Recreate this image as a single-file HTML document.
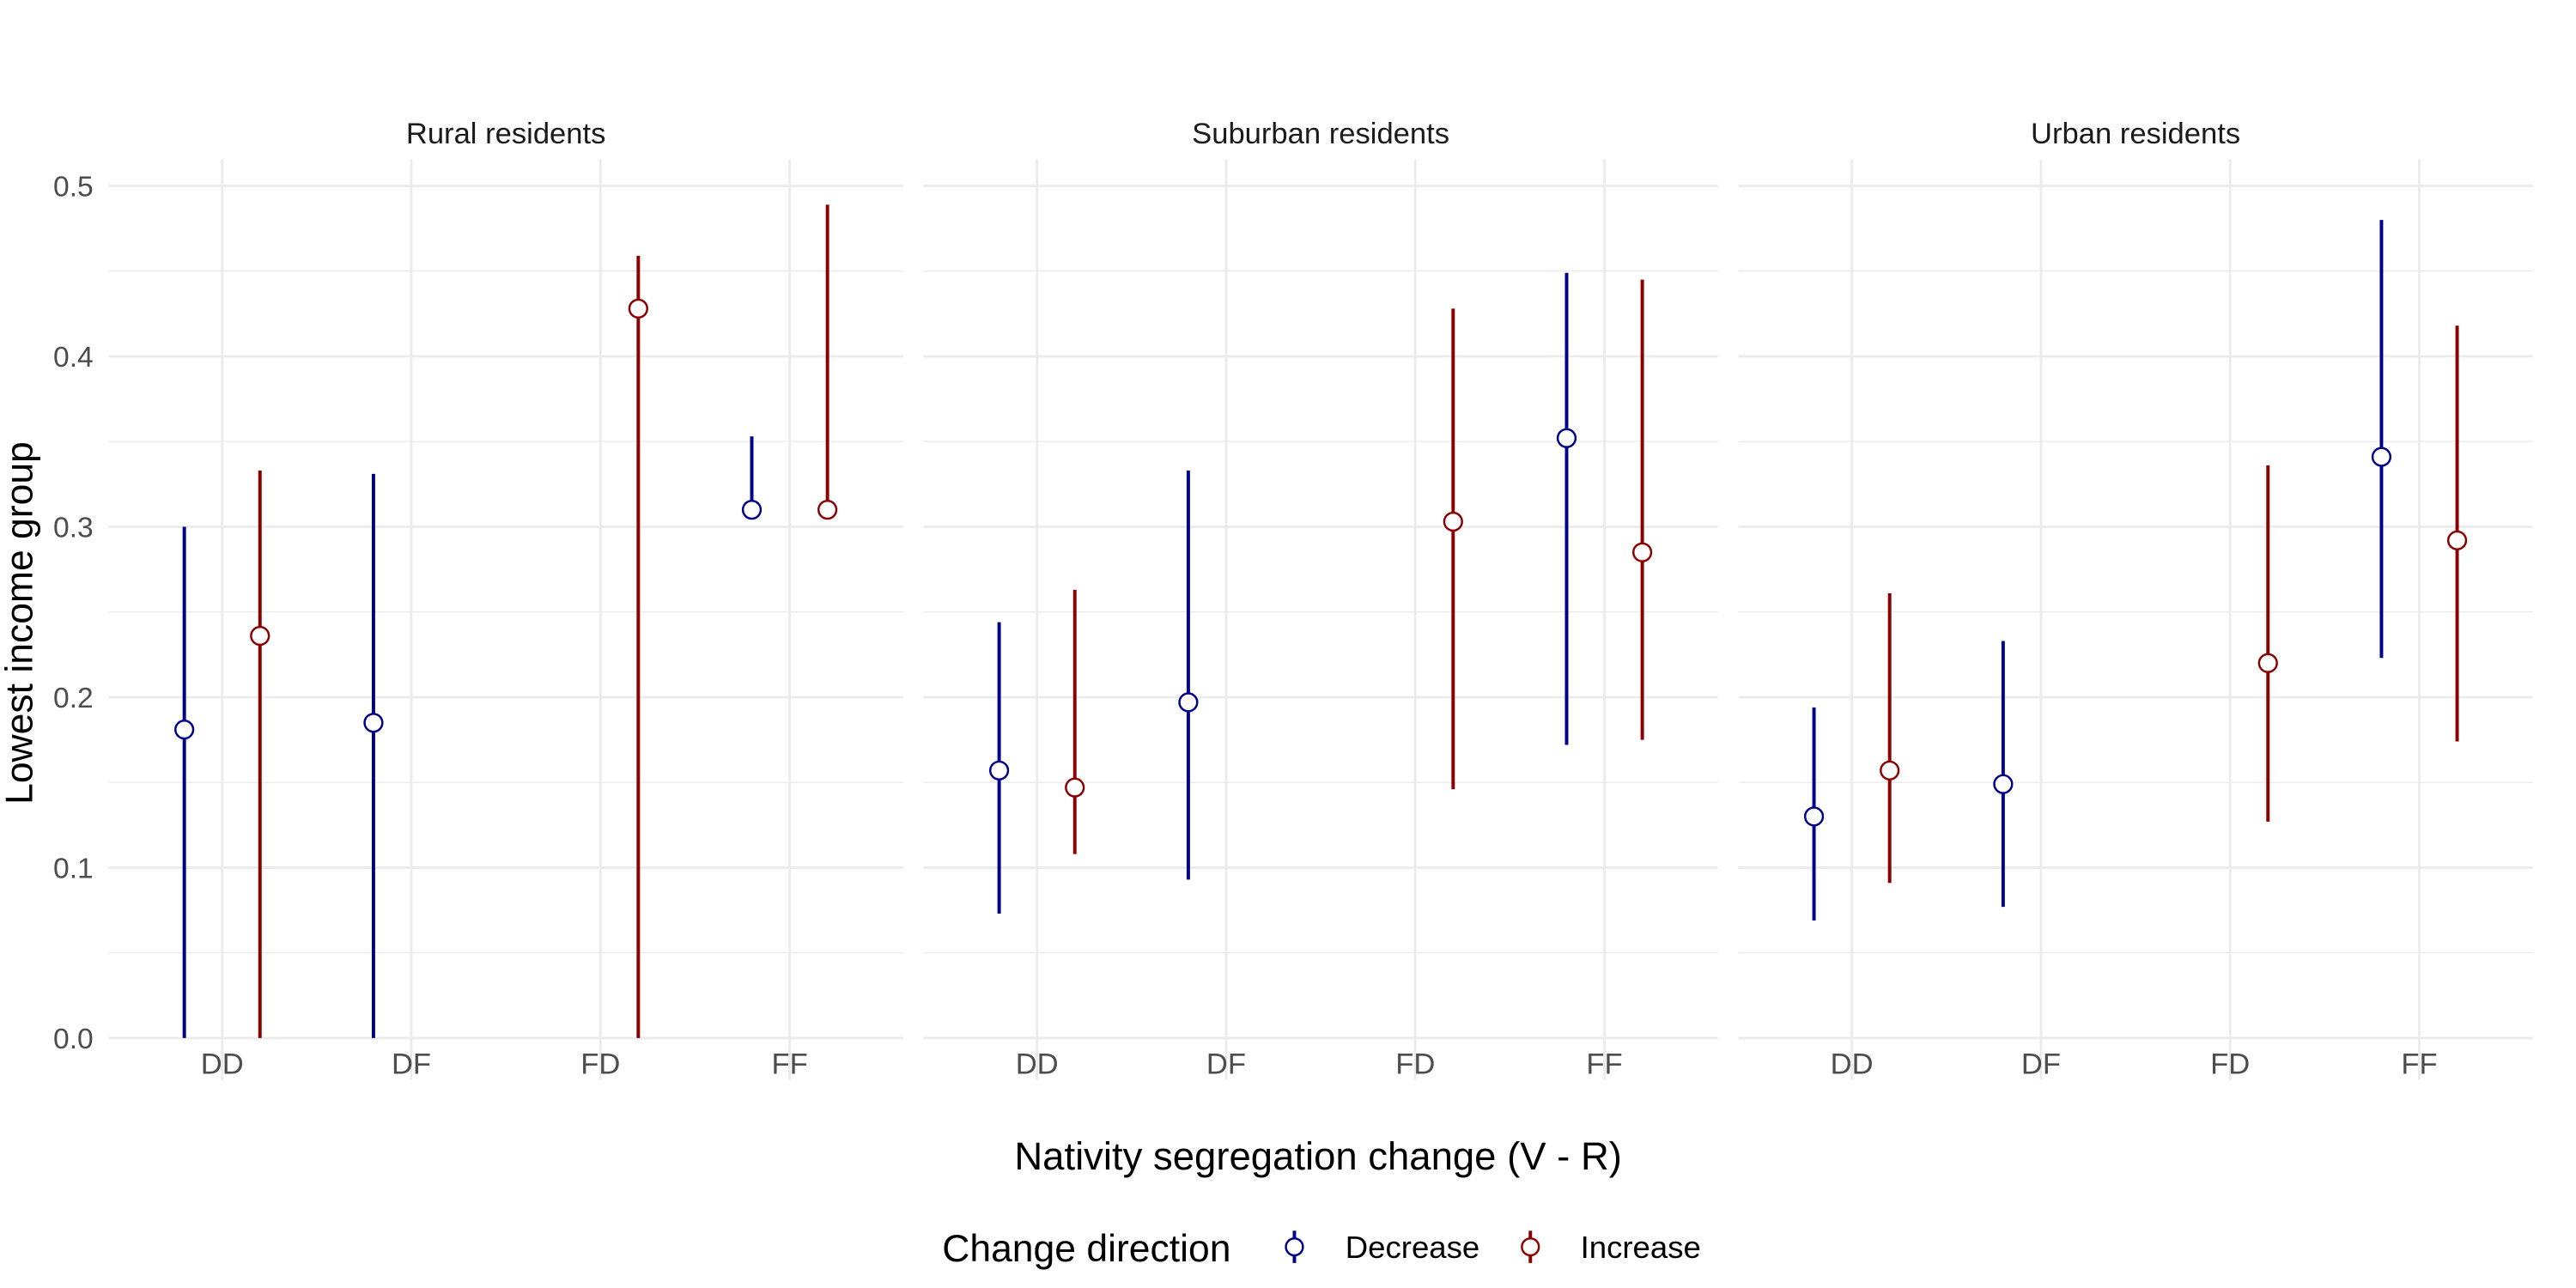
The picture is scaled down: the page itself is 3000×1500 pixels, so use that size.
<!DOCTYPE html>
<html><head><meta charset="utf-8"><style>
html,body{margin:0;padding:0;background:#fff;}
svg{display:block;font-family:"Liberation Sans",Arial,sans-serif;}
</style></head><body>
<svg id="chart" width="3000" height="1500" viewBox="0 0 3000 1500" xmlns="http://www.w3.org/2000/svg">
<rect width="3000" height="1500" fill="#fff"/>
<g transform="scale(0.9885)">
<g id="panels"></g>
<text x="1553" y="1378" font-size="46" text-anchor="middle" fill="#000">Nativity segregation change (V - R)</text>
<text x="0" y="0" font-size="45" text-anchor="middle" fill="#000" transform="translate(38,734) rotate(-90)">Lowest income group</text>
<g>
<text x="1110" y="1486" font-size="45" fill="#000">Change direction</text>
<g>
<line x1="1525" y1="1450" x2="1525" y2="1488" stroke="#00008B" stroke-width="4"/>
<circle cx="1525" cy="1469" r="10" fill="#fff" stroke="#00008B" stroke-width="2.5"/>
<text x="1585" y="1482" font-size="37" fill="#000">Decrease</text>
</g>
<g>
<line x1="1803" y1="1450" x2="1803" y2="1488" stroke="#8B0000" stroke-width="4"/>
<circle cx="1803" cy="1469" r="10" fill="#fff" stroke="#8B0000" stroke-width="2.5"/>
<text x="1862" y="1482" font-size="37" fill="#000">Increase</text>
</g>
</g>
</g>
</svg>
<script>
const facets = ["Rural residents","Suburban residents","Urban residents"];
const categories = ["DD","DF","FD","FF"];
const yTicks = [0,0.1,0.2,0.3,0.4,0.5];
const yTickLabels = ["0.0","0.1","0.2","0.3","0.4","0.5"];
const decFacet = [0,0,0,1,1,1,2,2,2];
const decCat   = [0,1,3,0,1,3,0,1,3];
const decEst   = [0.181,0.185,0.310,0.157,0.197,0.352,0.130,0.149,0.341];
const decLow   = [0.000,0.000,0.310,0.073,0.093,0.172,0.069,0.077,0.223];
const decHigh  = [0.300,0.331,0.353,0.244,0.333,0.449,0.194,0.233,0.480];
const incFacet = [0,0,0,1,1,1,2,2,2];
const incCat   = [0,2,3,0,2,3,0,2,3];
const incEst   = [0.236,0.428,0.310,0.147,0.303,0.285,0.157,0.220,0.292];
const incLow   = [0.000,0.000,0.310,0.108,0.146,0.175,0.091,0.127,0.174];
const incHigh  = [0.333,0.459,0.489,0.263,0.428,0.445,0.261,0.336,0.418];

const NS="http://www.w3.org/2000/svg";
const panelsG=document.getElementById('panels');
const panelLeft=[128,1088,2048], panelW=936, plotTop=188, plotBottom=1272;
const y0px=1223, y5px=219;
function yScale(v){return y0px+(y5px-y0px)*(v/0.5);}
function xScale(f,c){return panelLeft[f]+(c+1-0.4)*(panelW/4.2);}
const unit=panelW/4.2;
function mk(tag,attrs,parent){const e=document.createElementNS(NS,tag);for(const k in attrs)e.setAttribute(k,attrs[k]);(parent||panelsG).appendChild(e);return e;}

facets.forEach((name,f)=>{
  const pg=mk('g',{});
  
  
  const L=panelLeft[f],R=L+panelW;
  for(let i=0;i<yTicks.length-1;i++){
    const v=(yTicks[i]+yTicks[i+1])/2;
    const l=mk('line',{x1:L,x2:R,y1:yScale(v),y2:yScale(v),stroke:'#EBEBEB','stroke-width':1.4},pg);
    
    
  }
  yTicks.forEach(v=>{
    const l=mk('line',{x1:L,x2:R,y1:yScale(v),y2:yScale(v),stroke:'#EBEBEB','stroke-width':2.8},pg);
    
    
  });
  categories.forEach((c,ci)=>{
    const x=xScale(f,ci);
    const l=mk('line',{x1:x,x2:x,y1:plotTop,y2:plotBottom,stroke:'#EBEBEB','stroke-width':2.8},pg);
    
    
    const t=mk('text',{x:x,y:1265,'font-size':35,'text-anchor':'middle',fill:'#4D4D4D'},pg);
    t.textContent=c;
    
    
  });
  const st=mk('text',{x:L+panelW/2,y:169,'font-size':35,'text-anchor':'middle',fill:'#1A1A1A'},pg);
  st.textContent=name;
  
  
  if(f===0){
    yTicks.forEach((v,i)=>{
      const t=mk('text',{x:110,y:yScale(v)+12,'font-size':34,'text-anchor':'end',fill:'#4D4D4D'},pg);
      t.textContent=yTickLabels[i];
      
      
    });
  }
});

function drawSeries(fa,ca,est,lo,hi,off,color,nm){
  for(let i=0;i<est.length;i++){
    const x=xScale(fa[i],ca[i])+off*unit;
    const gg=mk('g',{});
    
    
    const l=mk('line',{x1:x,x2:x,y1:yScale(lo[i]),y2:yScale(hi[i]),stroke:color,'stroke-width':4},gg);
    
    
    const c=mk('circle',{cx:x,cy:yScale(est[i]),r:10.5,fill:'#fff',stroke:color,'stroke-width':2.5},gg);
    
    
  }
}
drawSeries(decFacet,decCat,decEst,decLow,decHigh,-0.2,'#00008B','decrease');
drawSeries(incFacet,incCat,incEst,incLow,incHigh,0.2,'#8B0000','increase');
</script>
</body></html>
